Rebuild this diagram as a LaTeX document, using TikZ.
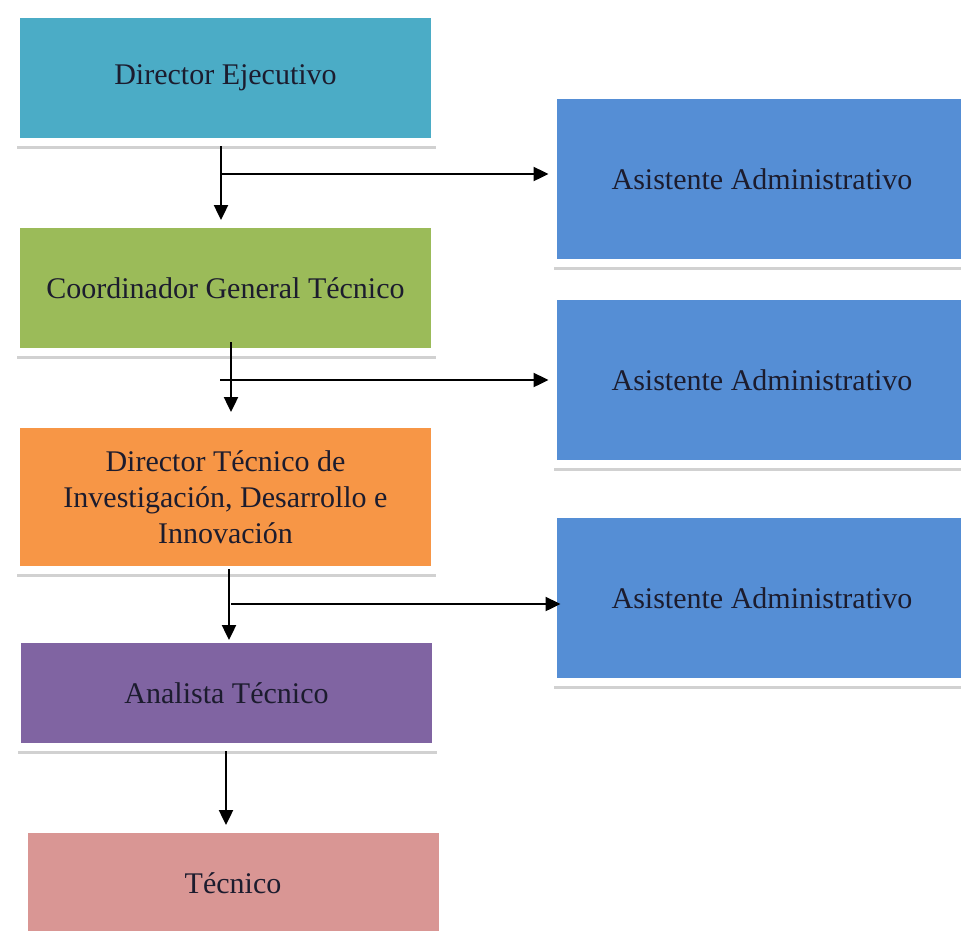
\documentclass[tikz,border=0pt]{standalone}
\usepackage{fontspec}
\setmainfont{Liberation Serif}
\usepackage{xcolor}
\usetikzlibrary{arrows.meta}
\usetikzlibrary{positioning}
\usetikzlibrary{shadows}

\definecolor{aqua}{HTML}{4BACC6}
\definecolor{leaf}{HTML}{9BBB59}
\definecolor{amber}{HTML}{F79646}
\definecolor{plum}{HTML}{8064A2}
\definecolor{rose}{HTML}{D99694}
\definecolor{azure}{HTML}{558ED5}
\definecolor{ink}{HTML}{1C1C2E}

\begin{document}
\begin{tikzpicture}[x=1pt, y=-1pt, node distance=210pt, line width=2.4pt,
  >={Triangle[length=15pt,width=14pt]}]

\tikzstyle{post} = [draw=white, line width=8pt, minimum width=419pt, minimum height=128pt,
  align=center, text=ink, font=\fontsize{30}{36}\selectfont,
  drop shadow={shadow xshift=1pt, shadow yshift=-6.5pt, opacity=.18, fill=black}]

\useasboundingbox (0,0) rectangle (961,930);
\clip (0,0) rectangle (961,930);

\node[post, fill=aqua] (dir) at (225.5,78) {Director Ejecutivo};
\node[post, fill=leaf] (coord) [below of=dir] {Coordinador General Técnico};
\node[post, fill=amber, minimum height=146pt] (dirtec) [below of=coord, node distance=209pt]
  {Director Técnico de\\Investigación, Desarrollo e\\Innovación};
\node[post, fill=plum, minimum height=108pt] (analista) [below of=dirtec, node distance=196pt, xshift=1pt] {Analista Técnico};
\node[post, fill=rose, minimum height=108pt] (tecnico) [below of=analista, node distance=190pt, xshift=6.5pt] {Técnico};

\node[post, fill=azure, minimum height=168pt] (asis1) at (762,179) {Asistente Administrativo};
\node[post, fill=azure, minimum height=168pt] (asis2) [below of=asis1, node distance=201pt] {Asistente Administrativo};
\node[post, fill=azure, minimum height=168pt] (asis3) [below of=asis2, node distance=218pt] {Asistente Administrativo};

\coordinate (j1) at (221,174);
\coordinate (j2) at (220,380);
\coordinate (t2) at (231,380);
\coordinate (j3) at (231,604);
\coordinate (t3) at (229,604);
\coordinate (t4) at (226,790);

\draw[->] (dir.south -| j1) -- (coord.north -| j1);
\draw[->] (j1) -- (j1 -| asis1.west);
\draw[->, shorten <=-14pt, shorten >=8pt] (coord.south -| t2) -- (dirtec.north -| t2);
\draw[->] (j2) -- (j2 -| asis2.west);
\draw[->, shorten <=-5pt, shorten >=-5pt] (dirtec.south -| t3) -- (analista.north -| t3);
\draw[->, shorten >=-12pt] (j3) -- (j3 -| asis3.west);
\draw[->] (analista.south -| t4) -- (tecnico.north -| t4);
\end{tikzpicture}
\end{document}
